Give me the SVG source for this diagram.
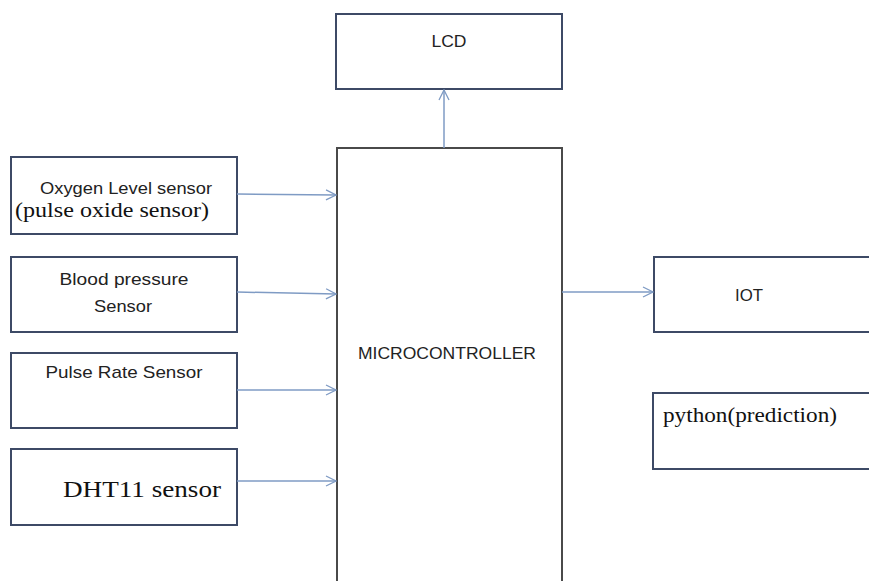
<svg xmlns="http://www.w3.org/2000/svg" width="869" height="581" viewBox="0 0 869 581">
<style>
.box{fill:#fff;stroke:#3d4a66;stroke-width:2}
.mc{fill:#fff;stroke:#4a4a4a;stroke-width:2}
.sans{font-family:"Liberation Sans",Arial,sans-serif;fill:#222}
.serif{font-family:"Liberation Serif","Times New Roman",serif;fill:#111}
.conn{stroke:#7f9bc4;stroke-width:1.5;fill:none}
</style>
<defs>
<marker id="arr" viewBox="0 0 12 12" refX="11" refY="6" markerWidth="12" markerHeight="12" markerUnits="userSpaceOnUse" orient="auto">
<path d="M1,1 L11,6 L1,11" fill="none" stroke="#7f9bc4" stroke-width="1.3"/>
</marker>
</defs>
<rect width="869" height="581" fill="#fff"/>
<g id="lcd">
<rect class="box" x="336" y="14" width="226" height="75"/>
<text class="sans" x="449" y="47" font-size="16" text-anchor="middle" textLength="35" lengthAdjust="spacingAndGlyphs">LCD</text>
</g>
<g id="microcontroller">
<rect class="mc" x="337" y="148" width="225" height="445"/>
<text class="sans" x="447" y="359" font-size="16" text-anchor="middle" textLength="178" lengthAdjust="spacingAndGlyphs">MICROCONTROLLER</text>
</g>
<g id="oxygen">
<rect class="box" x="11" y="157" width="226" height="77"/>
<text class="sans" x="126" y="194" font-size="17" text-anchor="middle" textLength="172" lengthAdjust="spacingAndGlyphs">Oxygen Level sensor</text>
<text class="serif" x="112" y="217" font-size="22" text-anchor="middle" textLength="194" lengthAdjust="spacingAndGlyphs">(pulse oxide sensor)</text>
</g>
<g id="blood">
<rect class="box" x="11" y="257" width="226" height="75"/>
<text class="sans" x="124" y="285" font-size="17" text-anchor="middle" textLength="129" lengthAdjust="spacingAndGlyphs">Blood pressure</text>
<text class="sans" x="123" y="312" font-size="17" text-anchor="middle" textLength="58" lengthAdjust="spacingAndGlyphs">Sensor</text>
</g>
<g id="pulse">
<rect class="box" x="11" y="353" width="226" height="75"/>
<text class="sans" x="124" y="378" font-size="17" text-anchor="middle" textLength="157" lengthAdjust="spacingAndGlyphs">Pulse Rate Sensor</text>
</g>
<g id="dht11">
<rect class="box" x="11" y="449" width="226" height="76"/>
<text class="serif" x="142" y="497" font-size="24" text-anchor="middle" textLength="158" lengthAdjust="spacingAndGlyphs">DHT11 sensor</text>
</g>
<g id="iot">
<rect class="box" x="654" y="257" width="230" height="75"/>
<text class="sans" x="749" y="301" font-size="16" text-anchor="middle" textLength="28" lengthAdjust="spacingAndGlyphs">IOT</text>
</g>
<g id="python">
<rect class="box" x="653" y="393" width="230" height="76"/>
<text class="serif" x="750" y="422" font-size="20" text-anchor="middle" textLength="174" lengthAdjust="spacingAndGlyphs">python(prediction)</text>
</g>
<g id="connectors">
<line class="conn" x1="444" y1="148" x2="444" y2="90" marker-end="url(#arr)"/>
<line class="conn" x1="237" y1="194" x2="336" y2="195" marker-end="url(#arr)"/>
<line class="conn" x1="237" y1="292" x2="336" y2="294" marker-end="url(#arr)"/>
<line class="conn" x1="237" y1="390" x2="336" y2="390" marker-end="url(#arr)"/>
<line class="conn" x1="237" y1="481" x2="336" y2="481" marker-end="url(#arr)"/>
<line class="conn" x1="562" y1="292" x2="653" y2="292" marker-end="url(#arr)"/>
</g>
</svg>
